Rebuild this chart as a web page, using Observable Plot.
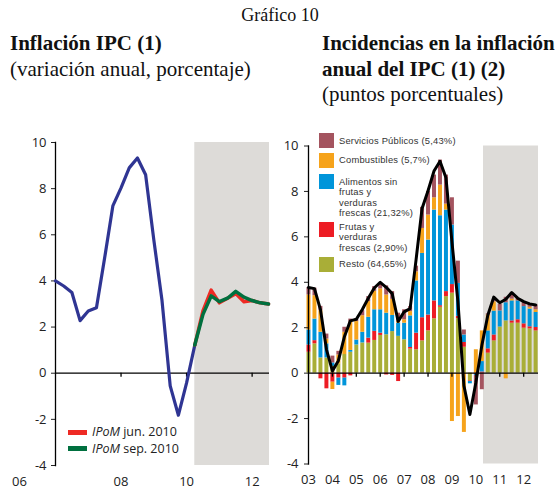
<!DOCTYPE html>
<html><head><meta charset="utf-8">
<script src="https://cdn.jsdelivr.net/npm/d3@7"></script>
<script src="https://cdn.jsdelivr.net/npm/@observablehq/plot@0.6"></script>
<style>
body{margin:0;background:#fff;}
#wrap{position:relative;width:560px;height:490px;overflow:hidden;background:#fff;}
.serif{position:absolute;font-family:"Liberation Serif","DejaVu Serif",serif;color:#111;white-space:nowrap;}
.chart{position:absolute;top:130px;}
.lg{position:absolute;font-family:"Liberation Sans",Arial,sans-serif;font-size:9.4px;letter-spacing:0.2px;line-height:10.5px;height:10.5px;color:#333;white-space:nowrap;}
.sw{position:absolute;width:15px;height:15px;}
.ll{position:absolute;font-family:"Open Sans",sans-serif;font-size:12.5px;line-height:16px;color:#222;white-space:nowrap;}
.lsw{position:absolute;width:19px;height:5px;}
</style></head><body><div id="wrap">
<div class="serif" style="top:5px;left:0;width:560px;text-align:center;font-size:18px;line-height:20px;">Gráfico 10</div>
<div class="serif" style="top:31px;left:10px;font-size:21px;line-height:25px;font-weight:bold;">Inflación IPC (1)</div>
<div class="serif" style="top:57px;left:10px;font-size:21px;line-height:25px;">(variación anual, porcentaje)</div>
<div class="serif" style="top:31px;left:322px;font-size:21px;line-height:25px;font-weight:bold;">Incidencias en la inflación</div>
<div class="serif" style="top:57px;left:322px;font-size:21px;line-height:25px;font-weight:bold;">anual del IPC (1) (2)</div>
<div class="serif" style="top:82px;left:322px;font-size:21px;line-height:25px;">(puntos porcentuales)</div>
<div id="left" class="chart" style="left:0;"></div>
<div id="right" class="chart" style="left:280px;"></div>
</div>
<script>
// ---- data ----
const firstYear = 2003;            // first quarter of the series: 2003 Q1
const projStart = 2010.25;         // first quarter of the projections
const shadeLeft = [2010.25, 2012.53];
const shadeRight = [2010.32, 2012.62];

// IPC annual inflation (quarterly, 2003Q1 - 2010Q2)
const ipc = [3.77,3.72,2.8,1.05,0.1,0.55,1.6,2.3,2.37,2.8,3.3,3.75,
  4.0,3.78,3.5,2.28,2.7,2.84,5.0,7.25,8.03,8.9,9.33,8.6,5.78,3.15,-0.55,-1.82,-0.42,1.22];
// projections 2010Q2 - 2012Q3
const ipomJun = [1.22,2.7,3.6,3.05,3.25,3.45,3.1,3.15,3.05,3.0];
const ipomSep = [1.22,2.55,3.35,3.1,3.25,3.55,3.3,3.15,3.05,3.0];

// contributions (2003Q1 - 2012Q3)
const resto = [0.92,1.29,0.67,0.67,0.3,0.41,0.82,0.92,1.24,1.33,1.32,1.44,1.66,1.69,1.83,1.62,1.47,1.06,1.03,1.42,1.86,2.39,2.9,3.37,3.52,2.4,1.14,-0.34,0,0,0.88,1.42,2.03,2.3,2.2,2.2,1.98,1.95,1.86];
const frutas = [0.32,0.14,-0.25,-0.69,-0.4,-0.22,-0.22,-0.12,0,0,0.22,0.4,0.1,-0.08,-0.1,-0.37,0,0.07,0.73,1.02,0.7,0.79,0.07,0.22,0.38,0.1,0.21,-0.03,-0.05,0.05,0.19,0.26,0,0,0.1,0.15,0.19,0.09,0.15];
const alimentos = [0.66,0.95,1.13,0.62,0.15,-0.32,-0.34,0.08,0.22,0.47,0.92,0.95,1.03,0.95,0.71,0.58,0.73,1.39,2.3,2.83,3.3,4.0,3.96,3.59,2.62,1.45,0.33,-0.1,-0.05,0.46,0.79,1.05,0.71,0.8,0.88,0.83,0.76,0.78,0.66];
const combustibles = [1.54,1.03,0.95,0.21,-0.32,0.39,0.98,1.24,0.81,0.73,0.69,0.81,0.92,0.8,0.71,0.1,0.15,0.19,0.4,1.1,1.1,0.54,1.35,0.26,-2.13,-1.91,-2.61,0,1.03,1.35,0.7,0.41,0,-0.25,0.08,0,0,0.08,0.12];
const servicios = [0.33,0.33,0.19,0.22,0.3,0.16,0.22,0.14,0.11,0.22,0.22,0.21,0.24,0.4,0.34,0.34,0.44,0.22,0.25,0.93,1.05,1.0,1.1,1.28,1.2,0.98,0.22,0,-1.3,-0.73,0.05,0.1,0.29,0.24,0.26,0.1,0.17,0.13,0.21];

const seriesNames = ["Resto","Frutas","Alimentos","Combustibles","Servicios"];
const seriesValues = [resto, frutas, alimentos, combustibles, servicios];
const seriesColors = ["#a9ae37","#ed1c24","#0095da","#f6a31b","#a4545f"];
const legendLines = [
  ["Servicios Públicos (5,43%)"],
  ["Combustibles (5,7%)"],
  ["Alimentos sin","frutas y","verduras","frescas (21,32%)"],
  ["Frutas y","verduras","frescas (2,90%)"],
  ["Resto (64,65%)"]
];
const legendColors = ["#a4545f","#f6a31b","#0095da","#ed1c24","#a9ae37"];
const legendTops = [135.5, 155, 176.5, 221.5, 259];
const legendSwatchTops = [132.5, 152.5, 173.5, 222, 256.5];

const yTicks = [-4,-2,0,2,4,6,8,10];
const leftXTicks = [2008, 2010, 2012];
const leftFirstTick = [2006];
const rightXTicks = [2003,2004,2005,2006,2007,2008,2009,2010,2011,2012];

// ---- derived tables ----
const tq = i => firstYear + i / 4;
const ipcRows = ipc.map((v, i) => ({t: tq(i), v}));
const leftActual = ipcRows.filter(d => d.t >= 2006);
const junRows = ipomJun.map((v, i) => ({t: projStart + i / 4, v}));
const sepRows = ipomSep.map((v, i) => ({t: projStart + i / 4, v}));
const rightLine = ipcRows.concat(sepRows.slice(1));
const barRows = [];
resto.forEach((_, i) => {
  seriesNames.forEach((s, k) => barRows.push({t: tq(i), series: s, value: seriesValues[k][i]}));
});

const axisStyle = {fontFamily: "'Open Sans', sans-serif", fontSize: "13px", color: "#222", background: "transparent", overflow: "visible"};
const fmtY = d => String(d);
const fmtX = d => String(d).slice(2);

const left = Plot.plot({
  width: 280, height: 360,
  marginLeft: 55, marginRight: 11, marginTop: 12, marginBottom: 25,
  style: axisStyle,
  x: {domain: [2006, shadeLeft[1]]},
  y: {domain: [-4, 10]},
  marks: [
    Plot.rect([shadeLeft], {x1: d => d[0], x2: d => d[1], fill: "#dddbd8"}),
    Plot.axisY({ticks: yTicks, tickSize: 4, tickPadding: 5, tickFormat: fmtY, label: null}),
    Plot.frame({anchor: "left", stroke: "#000", strokeWidth: 1.3}),
    Plot.ruleY([0], {stroke: "#000", strokeWidth: 1.3}),
    Plot.ruleX(leftXTicks, {x: d => d, y1: 0, y2: 0, insetBottom: -4, stroke: "#000", strokeWidth: 1.3}),
    Plot.axisX({ticks: leftXTicks, tickSize: 0, tickPadding: 11, tickFormat: fmtX, anchor: "bottom", label: null}),
    Plot.axisX({ticks: leftFirstTick, tickSize: 0, tickPadding: 11, tickFormat: fmtX, anchor: "bottom", label: null, dx: -36}),
    Plot.line(leftActual, {x: "t", y: "v", stroke: "#2f3593", strokeWidth: 3.2}),
    Plot.line(junRows, {x: "t", y: "v", stroke: "#ee2a24", strokeWidth: 3.5}),
    Plot.line(sepRows, {x: "t", y: "v", stroke: "#00703f", strokeWidth: 3.5})
  ]
});
document.getElementById("left").appendChild(left);

const right = Plot.plot({
  width: 280, height: 360,
  marginLeft: 28, marginRight: 22, marginTop: 15.5, marginBottom: 26.5,
  style: axisStyle,
  x: {domain: [firstYear, shadeRight[1]]},
  y: {domain: [-4, 10]},
  color: {domain: seriesNames, range: seriesColors},
  marks: [
    Plot.rect([shadeRight], {x1: d => d[0], x2: d => d[1], fill: "#dddbd8"}),
    Plot.rectY(barRows, {x1: d => d.t - 0.063, x2: d => d.t + 0.103, y: "value", fill: "series"}),
    Plot.axisY({ticks: yTicks, tickSize: 4, tickPadding: 6, tickFormat: fmtY, label: null}),
    Plot.frame({anchor: "left", stroke: "#000", strokeWidth: 1.3}),
    Plot.ruleY([0], {stroke: "#000", strokeWidth: 1.3}),
    Plot.ruleX(rightXTicks.slice(1), {x: d => d, y1: 0, y2: 0, insetBottom: -4, stroke: "#000", strokeWidth: 1.3}),
    Plot.axisX({ticks: rightXTicks, tickSize: 0, tickPadding: 11, tickFormat: fmtX, anchor: "bottom", label: null}),
    Plot.line(rightLine, {x: "t", y: "v", stroke: "#000", strokeWidth: 3})
  ]
});
document.getElementById("right").appendChild(right);

// ---- legends ----
const wrap = document.getElementById("wrap");
legendLines.forEach((lines, k) => {
  const sw = document.createElement("div");
  sw.className = "sw";
  sw.style.left = "319px";
  sw.style.top = legendSwatchTops[k] + "px";
  sw.style.background = legendColors[k];
  wrap.appendChild(sw);
  lines.forEach((line, j) => {
    const tx = document.createElement("div");
    tx.className = "lg";
    tx.style.left = "339px";
    tx.style.top = (legendTops[k] + j * 10.5) + "px";
    tx.textContent = line;
    wrap.appendChild(tx);
  });
});
const leftLegend = [
  {label: "jun. 2010", color: "#ee2a24", top: 432},
  {label: "sep. 2010", color: "#00703f", top: 448.5}
];
leftLegend.forEach(d => {
  const sw = document.createElement("div");
  sw.className = "lsw";
  sw.style.left = "68px";
  sw.style.top = (d.top - 2.5) + "px";
  sw.style.background = d.color;
  wrap.appendChild(sw);
  const tx = document.createElement("div");
  tx.className = "ll";
  tx.style.left = "92px";
  tx.style.top = (d.top - 8) + "px";
  tx.innerHTML = "<i>IPoM</i> " + d.label;
  wrap.appendChild(tx);
});
</script>
</body></html>
